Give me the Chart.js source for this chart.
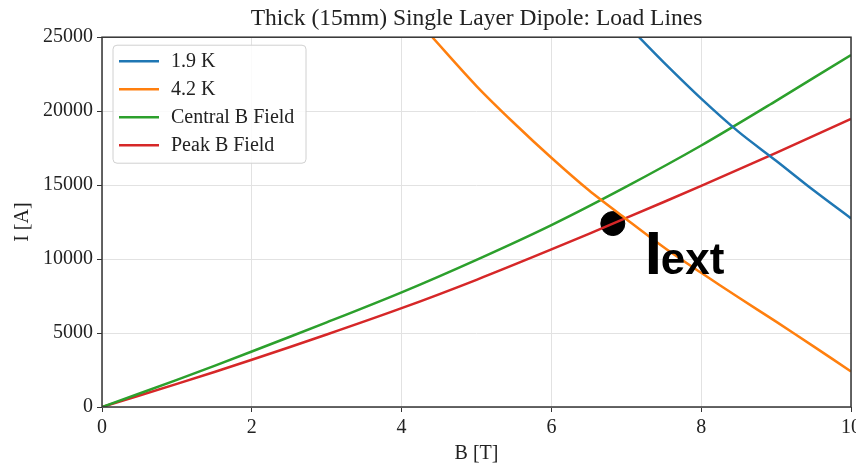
<!DOCTYPE html>
<html>
<head>
<meta charset="utf-8">
<script src="https://cdn.jsdelivr.net/npm/chart.js@4.4.1/dist/chart.umd.min.js"></script>
<style>
  html, body { margin: 0; padding: 0; background: #fff; }
  #wrap { width: 856px; height: 465px; }
</style>
</head>
<body>
<div id="wrap"><canvas id="loadLines" width="856" height="465"></canvas></div>
<script>
// values
const b19 = [7.17, 7.5, 8, 8.5, 9, 9.5, 10];
const i19 = [25000, 23300, 20850, 18600, 16650, 14650, 12750];

const b42 = [4.41, 5, 5.5, 6, 6.5, 7, 7.5, 8, 8.5, 9, 9.5, 10];
const i42 = [25000, 21700, 19200, 16850, 14650, 12700, 10800, 9070, 7400, 5770, 4100, 2400];

const bField = [0, 1, 2, 3, 4, 5, 6, 7, 8, 9, 10];
const iCentral = [0, 1830, 3750, 5720, 7750, 9950, 12300, 14900, 17680, 20700, 23800];
const iPeak = [0, 1560, 3190, 4900, 6680, 8600, 10650, 12780, 14950, 17180, 19470];

const extPoint = { b: 6.82, i: 12400 };

const xTicks = [0, 2, 4, 6, 8, 10];
const yTicks = [0, 5000, 10000, 15000, 20000, 25000];

const serif = 'Liberation Serif';

function pts(xs, ys) {
    return xs.map((x, k) => ({ x: x, y: ys[k] }));
}

// legend box drawn inside the axes, upper left
const innerLegend = {
    id: 'innerLegend',
    afterDatasetsDraw(chart) {
        const ctx = chart.ctx;
        const area = chart.chartArea;
        const items = chart.data.datasets.filter(d => d.label);
        const x0 = area.left + 11, y0 = area.top + 8;
        const w = 193, h = 118;
        ctx.save();
        ctx.beginPath();
        ctx.roundRect(x0, y0, w, h, 4);
        ctx.fillStyle = 'rgba(255,255,255,0.85)';
        ctx.fill();
        ctx.strokeStyle = '#d0d0d0';
        ctx.lineWidth = 1;
        ctx.stroke();
        ctx.font = '20px "' + serif + '"';
        ctx.textBaseline = 'middle';
        items.forEach((d, k) => {
            const yy = y0 + 16 + k * 28;
            ctx.strokeStyle = d.borderColor;
            ctx.lineWidth = 2.5;
            ctx.beginPath();
            ctx.moveTo(x0 + 6, yy);
            ctx.lineTo(x0 + 46, yy);
            ctx.stroke();
            ctx.fillStyle = '#222';
            ctx.fillText(d.label, x0 + 58, yy + 1);
        });
        ctx.restore();
    },
    afterDraw(chart) {
        const ctx = chart.ctx;
        const a = chart.chartArea;
        ctx.save();
        ctx.strokeStyle = '#333';
        ctx.lineWidth = 1.5;
        ctx.strokeRect(a.left, a.top, a.right - a.left, a.bottom - a.top);
        // I_ext annotation next to the operating point
        const px = chart.scales.x.getPixelForValue(extPoint.b);
        const py = chart.scales.y.getPixelForValue(extPoint.i);
        ctx.fillStyle = '#000';
        ctx.textBaseline = 'alphabetic';
        ctx.font = 'bold 62px "Liberation Sans"';
        ctx.fillText('I', px + 32, py + 50);
        ctx.font = 'bold 44px "Liberation Sans"';
        ctx.fillText('ext', px + 48, py + 50);
        ctx.restore();
    }
};

// let the "10" label hang off the right edge like the original
function trimX(s) {
    s.height = 58;
    s.paddingLeft = 0;
    s.paddingRight = 0;
    if (s._margins) { s._margins.left = 0; s._margins.right = 0; }
}

const ctx = document.getElementById('loadLines').getContext('2d');
const chart = new Chart(ctx, {
    type: 'line',
    data: {
        datasets: [
            { label: '1.9 K', data: pts(b19, i19), borderColor: '#1f77b4' },
            { label: '4.2 K', data: pts(b42, i42), borderColor: '#ff7f0e' },
            { label: 'Central B Field', data: pts(bField, iCentral), borderColor: '#2ca02c' },
            { label: 'Peak B Field', data: pts(bField, iPeak), borderColor: '#d62728' },
            {
                label: '',
                data: [{ x: extPoint.b, y: extPoint.i }],
                showLine: false,
                pointRadius: 12,
                pointBackgroundColor: '#000',
                pointBorderColor: '#000',
                borderColor: '#000'
            }
        ]
    },
    options: {
        responsive: false,
        animation: false,
        layout: { autoPadding: false, padding: { left: 0, right: 5, top: 0, bottom: 0 } },
        elements: {
            line: { borderWidth: 2.5, tension: 0.3, fill: false },
            point: { radius: 0, hoverRadius: 0 }
        },
        plugins: {
            legend: { display: false },
            tooltip: { enabled: false },
            title: {
                display: true,
                text: 'Thick (15mm) Single Layer Dipole: Load Lines',
                fullSize: false,
                color: '#222',
                font: { family: serif, size: 23.5, weight: 'normal', lineHeight: 1.2 },
                padding: { top: 5, bottom: 4 }
            }
        },
        scales: {
            x: {
                type: 'linear',
                min: 0,
                max: 10,
                afterBuildTicks: s => { s.ticks = xTicks.map(v => ({ value: v })); },
                afterFit: trimX,
                border: { display: false },
                grid: { color: '#e2e2e2', lineWidth: 1, tickColor: '#333', tickLength: 5 },
                ticks: {
                    color: '#222',
                    padding: 4,
                    maxRotation: 0,
                    font: { family: serif, size: 20 }
                },
                title: {
                    display: true,
                    text: 'B [T]',
                    color: '#222',
                    font: { family: serif, size: 20, lineHeight: 1.1 },
                    padding: { top: 0, bottom: 0 }
                }
            },
            y: {
                min: 0,
                max: 25000,
                afterBuildTicks: s => { s.ticks = yTicks.map(v => ({ value: v })); },
                afterFit: s => { s.width = 102; },
                border: { display: false },
                grid: { color: '#e2e2e2', lineWidth: 1, tickColor: '#333', tickLength: 5 },
                ticks: {
                    color: '#222',
                    padding: 4,
                    font: { family: serif, size: 20 },
                    callback: v => String(v)
                },
                title: {
                    display: true,
                    text: 'I [A]',
                    color: '#222',
                    font: { family: serif, size: 20, lineHeight: 1.2 },
                    padding: { top: 11, bottom: 0 }
                }
            }
        }
    },
    plugins: [innerLegend]
});
</script>
</body>
</html>
